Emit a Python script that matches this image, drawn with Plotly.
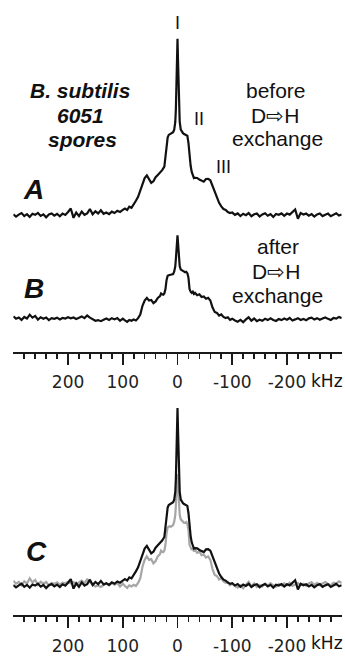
import plotly.graph_objects as go

W, H = 345, 656

# ---------------- data (kHz, relative intensity) ----------------
freq = [300, 295, 290, 285, 280, 275, 270, 265, 260, 255, 250, 245, 240, 235, 230, 225, 220, 215, 210, 205,
        200, 195, 190, 185, 180, 175, 170, 165, 160, 155, 150, 145, 140, 135, 130, 125, 120, 115, 110, 105, 100,
        96, 92, 88, 84, 80, 76, 72, 68, 64, 60, 56, 52, 48, 44, 40, 36, 32,
        30, 28, 26, 24, 22, 20, 18, 16, 14, 12, 10, 8, 6, 4, 3, 2, 1, 0, -1, -2, -3,
        -4, -6, -8, -10, -12, -14, -16, -18, -20, -22, -24, -26, -28, -30,
        -32, -36, -40, -44, -48, -52, -56, -60, -64, -68, -72, -76, -80, -84, -88, -92, -96,
        -100, -105, -110, -115, -120, -125, -130, -135, -140, -145, -150, -155, -160, -165, -170, -175, -180,
        -185, -190, -195, -200, -205, -210, -215, -220, -225, -230, -235, -240, -245, -250, -255, -260,
        -265, -270, -275, -280, -285, -290, -295, -300]

# spectrum A: before D->H exchange
spec_A = [0.5, -0.8, 0.3, 1.2, -0.5, 0.6, -1.0, 0.8, 0.2, 1.3, -0.4, 0.5, -1.2, 0.4, 1.0, -0.3, 0.7, -0.6, 0.9, 0.1,
          1.8, 3.8, -1.5, 1.5, -0.5, 2.0, 0.2, 1.0, 3.5, 0.5, 2.2, 1.0, 2.8, 0.8, 1.5, 0.6, 2.0, 1.2, 2.5, 1.8, 3.0,
          3.8, 3.0, 4.8, 4.2, 6.0, 8.2, 10.4, 13.8, 17.2, 21.0, 22.5, 20.0, 18.3, 19.2, 21.5, 22.8, 24.0,
          24.5, 25.5, 26.5, 27.5, 33, 39, 44, 45.5, 45.8, 46.0, 46.5, 47.0, 48.5, 53, 60, 70, 86, 100, 87, 71, 60,
          53, 48.5, 47, 46.5, 46, 45.5, 45.5, 45, 41, 33, 28, 24.5, 22.0, 21.0,
          21.2, 21.1, 20.2, 19.4, 19.0, 20.5, 20.6, 19.8, 16.6, 13.0, 9.3, 7.0, 5.0, 3.5, 3.0, 1.8, 1.2,
          1.5, 0.2, 1.0, -0.5, 0.8, 0.0, 1.2, -0.6, 0.5, 0.9, -0.8, 0.4, 1.1, -0.3, 0.6, -1.0, 0.7,
          0.2, 1.0, -0.4, 0.9, 0.3, 1.5, 3.2, -2.0, 1.2, 0.4, 0.9, -0.3, 0.6, -0.8, 0.4, 1.0,
          -0.5, 0.3, 0.9, -0.6, 0.5, 1.1, -0.2, 0.4]

# spectrum B: after D->H exchange
spec_B = [1.5, 0.2, 0.9, -0.5, 1.2, 0.3, 2.5, 0.8, 1.8, -0.3, 1.0, 0.2, 0.9, -0.6, 0.5, 0.1, 0.8, -0.2, 0.6, 0.3,
          1.0, 0.4, 0.9, 0.0, 0.7, 1.5, 0.5, 2.0, 0.8, 0.0, -1.0, -0.6, -1.2, -0.4, 0.3, -0.5, 0.5, -0.2, 0.6, -1.0, 0.2,
          -0.8, -1.6, -0.5, -1.0, -0.3, -0.8, 0.5, 2.5, 7.5, 10.5, 12.0, 10.5, 10.8, 9.0, 10.0, 12.0, 13.0,
          14.5, 14.0, 13.8, 14.5, 17, 22, 24.5, 24.8, 25.0, 24.8, 25.3, 25.5, 27, 30, 34, 38, 44, 47.5, 43, 37, 33,
          30, 28, 27.5, 27, 26.5, 26.5, 26.8, 26.0, 23.5, 17, 15.5, 14.8, 15.5, 14.2,
          14.8, 13.5, 14.0, 12.5, 12.8, 11.5, 12.0, 10.5, 6.5, 4.0, 3.5, 2.0, 2.6, 1.2, 0.6, 1.0, -0.5,
          0.2, -0.8, -1.5, -0.5, -1.8, -0.2, 1.0, -0.9, 0.3, -1.2, -0.4, -1.0, 0.2, -0.6, 0.4, -0.5, -1.1,
          0.0, -0.6, 0.3, -0.4, 0.6, -0.8, -0.2, 0.5, -0.5, 0.1, -0.7, 0.4, 0.8, -0.3, 0.5, -0.4,
          0.3, 0.9, 0.1, -0.5, 0.6, 0.2, 1.2, 0.5]

gray_scale = 1.3     # B rescaled for overlay in panel C
gray_offset = 1.0

tick_vals = [200, 100, 0, -100, -200]
tick_text = ["200", "100", "0", "-100", "-200"]
minor_vals = [280, 260, 240, 220, 180, 160, 140, 120, 80, 60, 40, 20,
              -20, -40, -60, -80, -120, -140, -160, -180, -220, -240, -260, -280]

assert len(freq) == len(spec_A) == len(spec_B)

# ---------------- layout helpers ----------------
def fx(p):
    return p / W


def fy(p):
    return 1 - p / H


def yax(top_px, bottom_px, zero_px, px_per_unit):
    return dict(domain=[fy(bottom_px), fy(top_px)],
                range=[-(bottom_px - zero_px) / px_per_unit, (zero_px - top_px) / px_per_unit],
                visible=False, fixedrange=True)


AX_COL = "#1a1a1a"
TICK_FONT = dict(family="DejaVu Sans", size=17, color="#222")


def xax(line_px):
    return dict(domain=[fx(13.3), fx(341.7)], range=[300, -300], anchor="free", position=fy(line_px),
                showline=True, linecolor=AX_COL, linewidth=2, showgrid=False, zeroline=False,
                tickmode="array", tickvals=tick_vals, ticktext=tick_text,
                ticks="outside", ticklen=11, tickwidth=1.6, tickcolor=AX_COL, tickfont=TICK_FONT,
                ticklabelstandoff=3,
                minor=dict(tickmode="array", tickvals=minor_vals, ticks="outside", ticklen=5,
                           tickwidth=1.6, tickcolor=AX_COL, showgrid=False),
                fixedrange=True)


fig = go.Figure()
LINE_BLACK = dict(color="#111111", width=2.2)
fig.add_trace(go.Scatter(x=freq, y=spec_A, xaxis="x", yaxis="y", mode="lines", line=LINE_BLACK,
                         showlegend=False, hoverinfo="skip"))
fig.add_trace(go.Scatter(x=freq, y=spec_B, xaxis="x", yaxis="y2", mode="lines", line=LINE_BLACK,
                         showlegend=False, hoverinfo="skip"))
fig.add_trace(go.Scatter(x=freq, y=[v * gray_scale + gray_offset for v in spec_B], xaxis="x2", yaxis="y3",
                         mode="lines", line=dict(color="#a6a6a6", width=2.2), showlegend=False, hoverinfo="skip"))
fig.add_trace(go.Scatter(x=freq, y=spec_A, xaxis="x2", yaxis="y3", mode="lines", line=LINE_BLACK,
                         showlegend=False, hoverinfo="skip"))

TXT = "Liberation Sans, Arial, sans-serif"


def label(text, xp, yp, size, bold_italic=False, family=TXT):
    t = text
    if bold_italic:
        t = "<b><i>" + text + "</i></b>"
    return dict(text=t, x=fx(xp), y=fy(yp), xref="paper", yref="paper", showarrow=False,
                xanchor="center", yanchor="middle", font=dict(family=family, size=size, color="#111"))


annotations = [
    label("I", 177, 23, 18),
    label("II", 199, 120, 18),
    label("III", 223, 168, 18),
    label("B. subtilis", 80, 91, 21, True),
    label("6051", 80, 116, 21, True),
    label("spores", 82, 140, 21, True),
    label("before", 276, 91, 21),
    label("D⇨H", 275, 116, 21),
    label("exchange", 277, 139, 21),
    label("A", 33, 191, 28, True),
    label("after", 278, 248, 21),
    label("D⇨H", 276, 273, 21),
    label("exchange", 277, 297, 21),
    label("B", 34, 290, 28, True),
    label("C", 36, 555, 28, True),
    label("kHz", 327, 383, 17, family="DejaVu Sans"),
    label("kHz", 327, 647, 17, family="DejaVu Sans"),
]

fig.update_layout(
    width=W, height=H,
    margin=dict(l=0, r=0, t=0, b=0),
    paper_bgcolor="white", plot_bgcolor="rgba(0,0,0,0)",
    xaxis=xax(355),
    xaxis2=xax(620),
    yaxis=yax(20, 230, 216.5, 1.775),
    yaxis2=yax(225, 335, 321, 1.775),
    yaxis3=yax(395, 605, 589.5, 1.79),
    annotations=annotations,
)

fig.write_html("out.html", config={"displayModeBar": False, "staticPlot": True},
               post_script="document.body.style.margin='0';document.body.style.padding='0';"
                           "document.body.style.overflow='hidden';")
